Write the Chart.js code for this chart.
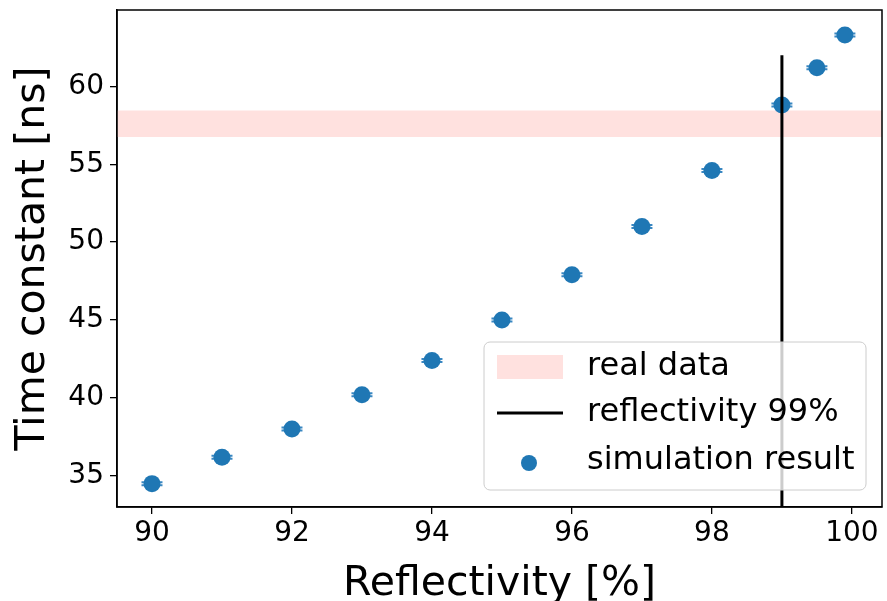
<!DOCTYPE html>
<html>
<head>
<meta charset="utf-8">
<script src="https://cdn.jsdelivr.net/npm/chart.js@4/dist/chart.umd.min.js"></script>
<style>
  body { margin: 0; background: #fff; }
  #wrap { width: 887px; height: 601px; }
</style>
</head>
<body>
<div id="wrap"><canvas id="tauChart" width="887" height="601"></canvas></div>
<script>
// Simulation results - reflectivity vs time constant
var reflectivity = [90, 91, 92, 93, 94, 95, 96, 97, 98, 99, 99.5, 99.9];
var timeConstant = [34.5, 36.2, 38.0, 40.2, 42.4, 45.0, 47.9, 51.0, 54.6, 58.8, 61.2, 63.3];
var reflectivityErr = [0.15, 0.15, 0.15, 0.15, 0.15, 0.15, 0.15, 0.15, 0.15, 0.15, 0.15, 0.15];

// measured band and 99% marker
var realDataBand = [56.75, 58.45];
var markerX = [99, 99];
var markerY = [33, 62];

var xTicks = [90, 92, 94, 96, 98, 100];
var yTicks = [35, 40, 45, 50, 55, 60];

var FONT = "'DejaVu Sans', sans-serif";
var BLUE = '#1f77b4';
var PINK = '#ffe1df';

// pink band + error bars go under the points
var underlay = {
    id: 'underlay',
    beforeDatasetsDraw: function (chart) {
        var c = chart.ctx, a = chart.chartArea;
        var x = chart.scales.x, y = chart.scales.y;
        c.save();
        c.beginPath();
        c.rect(a.left, a.top, a.right - a.left, a.bottom - a.top);
        c.clip();
        var y1 = y.getPixelForValue(realDataBand[1]);
        var y0 = y.getPixelForValue(realDataBand[0]);
        c.fillStyle = PINK;
        c.fillRect(a.left, y1, a.right - a.left, y0 - y1);

        c.strokeStyle = '#3b88c2';
        c.lineWidth = 2;
        for (var i = 0; i < reflectivity.length; i++) {
            var xl = x.getPixelForValue(reflectivity[i] - reflectivityErr[i]);
            var xr = x.getPixelForValue(reflectivity[i] + reflectivityErr[i]);
            var yp = y.getPixelForValue(timeConstant[i]);
            c.beginPath();
            c.moveTo(xl, yp - 1.5); c.lineTo(xr, yp - 1.5);
            c.moveTo(xl, yp + 1.5); c.lineTo(xr, yp + 1.5);
            c.stroke();
        }
        c.restore();
    }
};

// box frame + legend inside the axes
var overlay = {
    id: 'overlay',
    afterDraw: function (chart) {
        var c = chart.ctx, a = chart.chartArea;
        c.save();
        c.strokeStyle = '#000';
        c.lineWidth = 1.5;
        c.strokeRect(a.left, a.top, a.right - a.left, a.bottom - a.top);

        var lx = 484, ly = 342, lw = 382, lh = 148, r = 6;
        c.beginPath();
        c.moveTo(lx + r, ly);
        c.arcTo(lx + lw, ly, lx + lw, ly + lh, r);
        c.arcTo(lx + lw, ly + lh, lx, ly + lh, r);
        c.arcTo(lx, ly + lh, lx, ly, r);
        c.arcTo(lx, ly, lx + lw, ly, r);
        c.closePath();
        c.fillStyle = 'rgba(255,255,255,0.8)';
        c.fill();
        c.strokeStyle = '#cccccc';
        c.lineWidth = 1;
        c.stroke();

        c.fillStyle = PINK;
        c.fillRect(497, 355, 66, 24);

        c.strokeStyle = '#000';
        c.lineWidth = 3;
        c.beginPath();
        c.moveTo(497, 413); c.lineTo(563, 413);
        c.stroke();

        c.fillStyle = BLUE;
        c.beginPath();
        c.arc(529, 463, 8, 0, Math.PI * 2);
        c.fill();

        c.fillStyle = '#000';
        c.font = '32px ' + FONT;
        c.textBaseline = 'middle';
        c.fillText('real data', 587, 367);
        c.fillText('reflectivity 99%', 587, 413);
        c.fillText('simulation result', 587, 461);
        c.restore();
    }
};

var ctx = document.getElementById('tauChart').getContext('2d');
var tauChart = new Chart(ctx, {
    type: 'scatter',
    data: {
        datasets: [{
            label: 'reflectivity 99%',
            type: 'line',
            data: markerX.map(function (v, i) { return {x: v, y: markerY[i]}; }),
            borderColor: '#000',
            borderWidth: 3,
            pointRadius: 0,
            fill: false,
            order: 0
        }, {
            label: 'simulation result',
            data: reflectivity.map(function (v, i) { return {x: v, y: timeConstant[i]}; }),
            backgroundColor: BLUE,
            borderWidth: 0,
            pointRadius: 8.5,
            pointHoverRadius: 8.5,
            order: 1
        }]
    },
    options: {
        responsive: false,
        animation: false,
        events: [],
        layout: {autoPadding: false, padding: {top: 10, right: 5, left: 0, bottom: 0}},
        plugins: {
            legend: {display: false},
            tooltip: {enabled: false}
        },
        scales: {
            x: {
                type: 'linear',
                min: 89.5,
                max: 100.43,
                afterBuildTicks: function (s) { s.ticks = xTicks.map(function (v) { return {value: v}; }); },
                afterFit: function (s) { s.height = 94; s.paddingLeft = 0; s.paddingRight = 0; },
                grid: {drawOnChartArea: false, color: '#000', tickLength: 7, lineWidth: 1.3},
                border: {color: '#000', width: 1.5},
                ticks: {color: '#000', font: {family: FONT, size: 28}, padding: 3, maxRotation: 0},
                title: {display: true, text: 'Reflectivity [%]', color: '#000',
                        font: {family: FONT, size: 41, lineHeight: 0.82}, padding: {top: 0, bottom: 0}}
            },
            y: {
                type: 'linear',
                min: 33.0,
                max: 64.9,
                afterBuildTicks: function (s) { s.ticks = yTicks.map(function (v) { return {value: v}; }); },
                afterFit: function (s) { s.width = 117; s.paddingTop = 0; s.paddingBottom = 0; },
                grid: {drawOnChartArea: false, color: '#000', tickLength: 7, lineWidth: 1.3},
                border: {color: '#000', width: 1.5},
                ticks: {color: '#000', font: {family: FONT, size: 28}, padding: 6},
                title: {display: true, text: 'Time constant [ns]', color: '#000',
                        font: {family: FONT, size: 41}, padding: {top: 9, bottom: 0}}
            }
        }
    },
    plugins: [underlay, overlay]
});
</script>
</body>
</html>
